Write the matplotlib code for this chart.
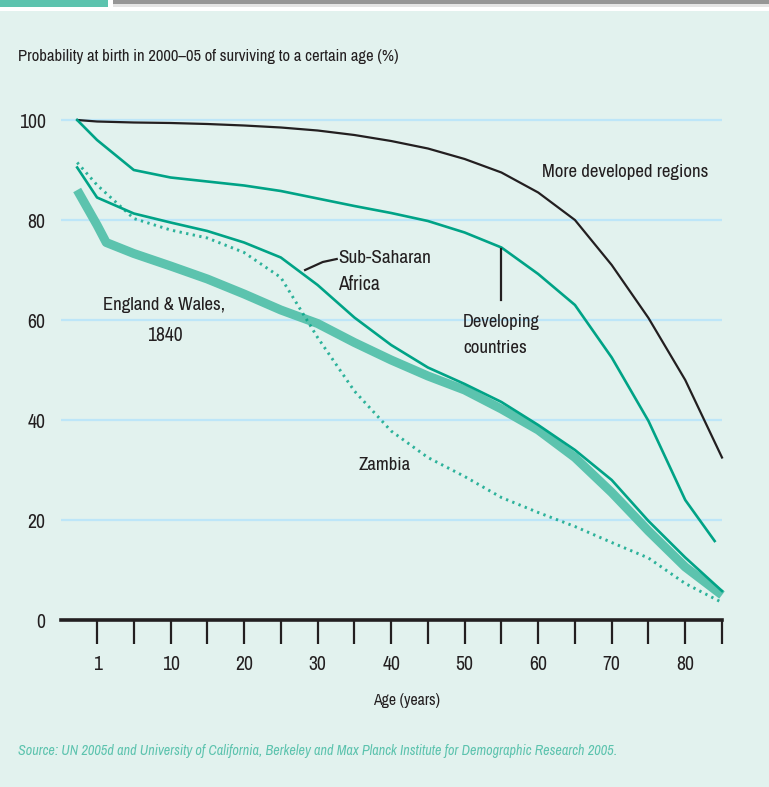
import numpy as np
import matplotlib
matplotlib.use('Agg')
from matplotlib import pyplot as plt
import matplotlib.font_manager as fm

# ages (years) and survival probability (%)
ages = [0, 1, 5, 10, 15, 20, 25, 30, 35, 40, 45, 50, 55, 60, 65, 70, 75, 80, 85]
dev_ages = [0, 1, 5, 10, 15, 20, 25, 30, 35, 40, 45, 50, 55, 60, 65, 70, 75, 80, 84]
eng_ages = [0, 1, 2, 5, 10, 15, 20, 25, 30, 35, 40, 45, 50, 55, 60, 65, 70, 75, 80, 85]

more_developed = [100, 99.7, 99.5, 99.4, 99.2, 98.9, 98.5, 97.9, 97.0, 95.8, 94.3, 92.2, 89.5, 85.5, 80.0, 71.0, 60.4, 48.0, 32.5]
developing = [100, 96.0, 90.0, 88.5, 87.7, 86.9, 85.8, 84.3, 82.8, 81.4, 79.8, 77.5, 74.5, 69.2, 63.0, 52.5, 39.8, 24.0, 15.8]
sub_saharan = [90.5, 84.5, 81.3, 79.5, 77.8, 75.5, 72.5, 67.0, 60.5, 55.0, 50.5, 47.2, 43.6, 39.0, 34.0, 28.0, 19.8, 12.5, 5.8]
zambia = [91.5, 87.0, 80.3, 78.0, 76.4, 73.5, 68.5, 56.5, 45.8, 37.8, 32.5, 28.7, 24.5, 21.5, 18.7, 15.5, 12.4, 7.3, 3.5]
england_1840 = [86.0, 79.0, 75.5, 73.3, 70.8, 68.2, 65.2, 62.0, 59.3, 55.5, 52.0, 48.8, 46.0, 42.2, 38.0, 32.5, 25.5, 17.8, 10.6, 5.0]

x_ticks_lab = ['1', '10', '20', '30', '40', '50', '60', '70', '80']
y_ticks = [0, 20, 40, 60, 80, 100]

BG = '#e2f2ee'
TEAL = '#00a386'
LTEAL = '#5cc3ae'
DARK = '#231f20'
GRID = '#bde6f8'
W, H = 769, 787


def pick_font(italic=False):  # ищем узкий шрифт, если есть
    good = []
    for f in fm.fontManager.ttflist:
        narrow = ('Narrow' in f.name or 'Condensed' in f.name
                  or f.stretch in ('condensed', 'semi-condensed', 'extra-condensed'))
        if not narrow:
            continue
        if (f.style != 'normal') != italic:
            continue
        if f.weight not in (400, 'normal', 'regular', 'book'):
            continue
        good.append(f)
    good.sort(key=lambda f: ('Narrow' not in f.name, f.name))
    if good:
        return fm.FontProperties(fname=good[0].fname)
    return fm.FontProperties(family='DejaVu Sans', style='italic' if italic else 'normal')


FP = pick_font()
FPI = pick_font(True)


def pos(a):  # age -> position on the axis ("1" sits at 0)
    return np.interp(a, [0, 1, 5, 85], [-2.7, 0, 5, 85])


def fx(px):
    return px / W


def fy(py):
    return 1 - py / H


fig = plt.figure(figsize=(W / 100, H / 100), dpi=100, facecolor=BG)
renderer = fig.canvas.get_renderer()


def fit(t, width_px):  # подгоняем размер шрифта под ширину
    t.set_fontsize(12)
    w = t.get_window_extent(renderer).width
    t.set_fontsize(12 * width_px / w)
    return t


def label(x0, y0, s, width_px, ha='left', fp=FP, color=DARK):
    t = fig.text(fx(x0), fy(y0), s, fontproperties=fp, color=color, va='center', ha=ha)
    return fit(t, width_px)


# top strip
fig.patches.append(plt.Rectangle((0, fy(11)), 1, fy(0) - fy(11), transform=fig.transFigure,
                                 facecolor='white', edgecolor='none'))
fig.patches.append(plt.Rectangle((0, fy(7)), fx(108), fy(0) - fy(7), transform=fig.transFigure,
                                 facecolor=LTEAL, edgecolor='none'))
fig.patches.append(plt.Rectangle((fx(113), fy(7)), 1, fy(4) - fy(7), transform=fig.transFigure,
                                 facecolor='#e4e4e4', edgecolor='none'))
fig.patches.append(plt.Rectangle((fx(113), fy(4)), 1, fy(0) - fy(4), transform=fig.transFigure,
                                 facecolor='#969696', edgecolor='none'))

# axes: x from -5 to 85, y from 0 to 104
ax = fig.add_axes([fx(61), fy(620), fx(722) - fx(61), fy(100) - fy(620)])
ax.set_facecolor('none')
ax.set_xlim(-4.9, 85)
ax.set_ylim(0, 104)

for v in y_ticks[1:]:
    ax.axhline(v, color=GRID, lw=1.6, zorder=1)

ax.plot(pos(ages), more_developed, color=DARK, lw=1.6, zorder=3, clip_on=False)
ax.plot(pos(dev_ages), developing, color=TEAL, lw=1.9, zorder=3, clip_on=False)
ax.plot(pos(eng_ages), england_1840, color=LTEAL, lw=6.5, zorder=2, clip_on=False,
        solid_capstyle='butt', solid_joinstyle='round')
ax.plot(pos(ages), zambia, color=TEAL, lw=2.1, ls=(0, (0.8, 1.5)), zorder=3, clip_on=False, alpha=0.8)
ax.plot(pos(ages), sub_saharan, color=TEAL, lw=1.9, zorder=3, clip_on=False)

# leader lines
ax.plot([28.3, 30.7, 32.6], [70.0, 71.6, 72.2], color=DARK, lw=1.6, zorder=4)
ax.plot([55.0, 55.0], [74.2, 64.0], color=DARK, lw=1.6, zorder=4)

for s in ['top', 'right', 'left']:
    ax.spines[s].set_visible(False)
ax.spines['bottom'].set_linewidth(2.6)
ax.spines['bottom'].set_color(DARK)

ax.set_xticks(np.arange(0, 90, 10))
ax.set_xticks(np.arange(5, 90, 10), minor=True)
ax.set_xticklabels(x_ticks_lab)
ax.set_yticks(y_ticks)
ax.set_yticklabels([str(v) for v in y_ticks])

# размер подписей осей по ширине "100"
probe = fit(fig.text(0, 0, '100', fontproperties=FP), 27)
tick_size = probe.get_fontsize()
probe.remove()
for t in ax.get_xticklabels() + ax.get_yticklabels():
    t.set_fontproperties(FP)
    t.set_fontsize(tick_size)

ax.tick_params(axis='x', which='both', direction='out', length=17, width=1.6, color=DARK,
               pad=8, labelcolor=DARK)
ax.tick_params(axis='y', length=0, pad=11, labelcolor=DARK)

# labels
label(18, 57, 'Probability at birth in 2000\u201305 of surviving to a certain age (%)', 380)
label(542, 172, 'More developed regions', 166)
label(338, 258, 'Sub-Saharan', 93)
label(338, 285, 'Africa', 42)
label(463, 322, 'Developing', 77)
label(463, 348, 'countries', 64)
label(164, 305, 'England & Wales,', 122, ha='center')
label(165, 335, '1840', 36, ha='center')
label(359, 465, 'Zambia', 52)
label(407, 700, 'Age (years)', 67, ha='center')
label(18, 751, 'Source: UN 2005d and University of California, Berkeley and Max Planck '
      'Institute for Demographic Research 2005.', 597, fp=FPI, color=LTEAL)

fig.savefig('out.png', dpi=100, facecolor=BG)
